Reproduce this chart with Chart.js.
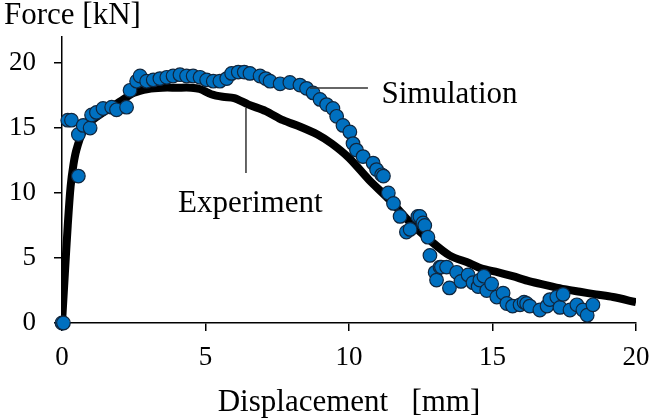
<!DOCTYPE html>
<html>
<head>
<meta charset="utf-8">
<script src="https://cdn.jsdelivr.net/npm/chart.js@4.4.0/dist/chart.umd.min.js"></script>
<style>
  html, body { margin: 0; padding: 0; background: #fff; }
  #wrap { width: 650px; height: 420px; }
</style>
</head>
<body>
<div id="wrap"><canvas id="chart" width="650" height="420"></canvas></div>
<script>
// DATA

const simX = [0, 0.05, 0.2, 0.33, 0.57, 0.57, 0.74, 0.98, 1.03, 1.2, 1.43, 1.73, 1.9, 2.25, 2.37, 2.6, 2.72, 2.95, 3.18,
    3.41, 3.65, 3.87, 4.11, 4.34, 4.57, 4.81, 5.04, 5.27, 5.5, 5.74, 5.91, 6.14, 6.35, 6.55, 6.9, 7.1, 7.25, 7.6, 7.94,
    8.29, 8.52, 8.75, 8.99, 9.22, 9.44, 9.57, 9.79, 10.03, 10.14, 10.26, 10.49, 10.84, 10.96, 11.14, 11.2, 11.37, 11.55,
    11.78, 12.0, 12.13, 12.4, 12.47, 12.58, 12.64, 12.75, 12.82, 13.0, 13.05, 13.17, 13.22, 13.4, 13.5, 13.75, 13.9,
    14.15, 14.32, 14.5, 14.56, 14.7, 14.8, 14.97, 15.15, 15.37, 15.5, 15.7, 15.96, 16.1, 16.19, 16.3, 16.65, 16.9, 17.0,
    17.24, 17.35, 17.46, 17.7, 17.94, 18.15, 18.3, 18.5];
const simY = [0, 0, 15.6, 15.6, 11.3, 14.5, 15.2, 15.0, 16.0, 16.2, 16.5, 16.6, 16.4, 16.6, 17.9, 18.6, 19.0, 18.6, 18.7,
    18.8, 18.9, 19.0, 19.1, 19.0, 19.0, 18.9, 18.7, 18.6, 18.6, 18.8, 19.2, 19.3, 19.3, 19.2, 19.0, 18.8, 18.6, 18.4, 18.5,
    18.3, 18.05, 17.7, 17.2, 16.8, 16.5, 15.9, 15.2, 14.7, 13.8, 13.3, 12.8, 12.3, 11.8, 11.4, 11.3, 10.0, 9.2,
    8.2, 7.0, 7.2, 8.2, 8.2, 7.7, 7.5, 6.6, 5.2, 3.9, 3.3, 4.3, 4.3, 4.3, 2.7, 3.9, 3.2,
    3.7, 3.1, 2.8, 3.3, 3.6, 2.5, 3.0, 2.0, 2.3, 1.5, 1.3, 1.4, 1.6, 1.5, 1.3, 1.0, 1.3, 1.8,
    2.0, 1.2, 2.2, 1.0, 1.4, 1.0, 0.6, 1.4];

const expX = [0, 0.1, 0.2, 0.3, 0.4, 0.5, 0.7, 1.0, 1.5, 2.0, 2.5, 3.0, 3.5, 4.0, 4.5, 4.8, 5.2, 5.6, 6.0, 6.5, 7.1,
    7.7, 8.3, 8.9, 9.4, 10.0, 10.7, 11.4, 12.1, 12.8, 13.5, 14.2, 14.6, 15.2, 15.7, 16.3, 16.9, 17.5, 18.05, 18.6,
    19.2, 20];
const expY = [0, 3.8, 7.5, 10.5, 12.2, 13.3, 14.6, 15.5, 16.3, 17.0, 17.7, 18.0, 18.1, 18.1, 18.1, 18.0, 17.6, 17.4,
    17.3, 16.8, 16.3, 15.6, 15.1, 14.5, 13.8, 12.7, 11.0, 9.5, 7.8, 6.4, 5.2, 4.6, 4.2, 3.9, 3.6, 3.2, 2.9, 2.6, 2.4,
    2.2, 2.0, 1.6];

const yTicks = [0, 5, 10, 15, 20];

// labels placed in data units: [x, y]
const simLabelPos = [11.13, 16.9];
const simLeader = [[8.64, 18.08], [10.66, 18.08]];
const expLabelPos = [4.04, 8.56];
const expLeader = [[6.41, 16.54], [6.41, 11.54]];

const FONT = "'Liberation Serif', 'Times New Roman', serif";

const toPoints = (xs, ys) => xs.map((x, i) => ({ x, y: ys[i] }));

// ANNOTATIONS

const annotations = {
    id: "annotations",
    afterDraw(chart) {
        const { ctx, scales: { x, y } } = chart;
        ctx.save();
        ctx.fillStyle = "#000";
        ctx.font = `31px ${FONT}`;
        ctx.textBaseline = "alphabetic";
        ctx.textAlign = "left";
        ctx.fillText("Force [kN]", 4, 24);

        ctx.strokeStyle = "#333";
        ctx.lineWidth = 1.5;
        [simLeader, expLeader].forEach(([a, b]) => {
            ctx.beginPath();
            ctx.moveTo(x.getPixelForValue(a[0]), y.getPixelForValue(a[1]));
            ctx.lineTo(x.getPixelForValue(b[0]), y.getPixelForValue(b[1]));
            ctx.stroke();
        });

        ctx.fillText("Simulation", x.getPixelForValue(simLabelPos[0]), y.getPixelForValue(simLabelPos[1]));
        ctx.fillText("Experiment", x.getPixelForValue(expLabelPos[0]), y.getPixelForValue(expLabelPos[1]));
        ctx.restore();
    },
};

// CHART

const chart = new Chart(document.getElementById("chart"), {
    type: "scatter",
    data: {
        datasets: [
            {
                label: "Simulation",
                data: toPoints(simX, simY),
                showLine: false,
                pointRadius: 6.8,
                pointBackgroundColor: "#0070C0",
                pointBorderColor: "#10263d",
                pointBorderWidth: 1.2,
                clip: false,
                order: 0,
            },
            {
                label: "Experiment",
                data: toPoints(expX, expY),
                showLine: true,
                pointRadius: 0,
                borderColor: "#000",
                borderWidth: 8,
                tension: 0.3,
                order: 1,
            },
        ],
    },
    options: {
        responsive: false,
        animation: false,
        layout: { padding: { top: 37, right: 14, left: 0, bottom: 0 } },
        plugins: {
            legend: { display: false },
            tooltip: { enabled: false },
        },
        scales: {
            x: {
                type: "linear",
                min: 0,
                max: 20,
                ticks: {
                    stepSize: 5,
                    color: "#000",
                    padding: 11,
                    maxRotation: 0,
                    font: { family: FONT, size: 27 },
                },
                grid: { drawOnChartArea: false, drawTicks: true, tickLength: 8, color: "#000", lineWidth: 1.5 },
                border: { color: "#000", width: 1.5 },
                title: {
                    display: true,
                    text: "Displacement   [mm]",
                    color: "#000",
                    padding: { top: 0, bottom: 0 },
                    font: { family: FONT, size: 31, lineHeight: 1.1 },
                },
                afterFit: (scale) => {
                    scale.height = 97;
                    scale.paddingLeft = 0;
                    scale.paddingRight = 0;
                },
            },
            y: {
                type: "linear",
                min: 0,
                max: 22,
                afterBuildTicks: (scale) => { scale.ticks = yTicks.map((value) => ({ value })); },
                ticks: {
                    color: "#000",
                    padding: 18,
                    font: { family: FONT, size: 27 },
                },
                grid: { drawOnChartArea: false, drawTicks: true, tickLength: 8, color: "#000", lineWidth: 1.5 },
                border: { color: "#000", width: 1.5 },
                afterFit: (scale) => { scale.width = 62; },
            },
        },
    },
    plugins: [annotations],
});
</script>
</body>
</html>
